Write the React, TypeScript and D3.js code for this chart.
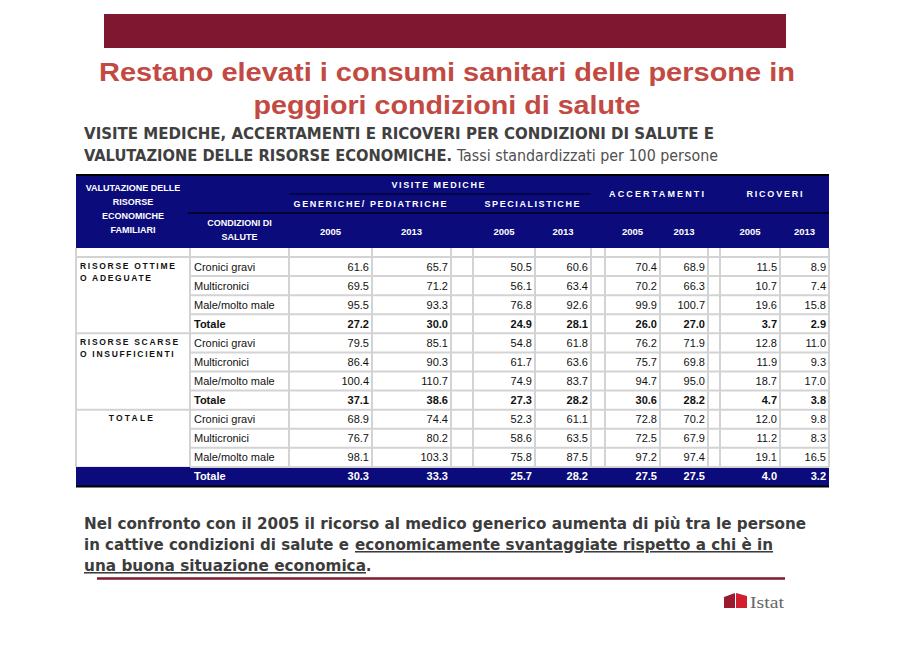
import React from 'react';
import * as d3 from 'd3';

// ---------- DATA ----------
const groupLabels: string[][] = [
  ['RISORSE OTTIME', 'O ADEGUATE'],
  ['RISORSE SCARSE', 'O INSUFFICIENTI'],
  ['TOTALE'],
];
const conditions = ['Cronici gravi', 'Multicronici', 'Male/molto male', 'Totale'];
const years = ['2005', '2013'];
const measures = ['GENERICHE/ PEDIATRICHE', 'SPECIALISTICHE', 'ACCERTAMENTI', 'RICOVERI'];
const topHeader = 'VISITE MEDICHE';
const firstColHeader = ['VALUTAZIONE DELLE', 'RISORSE', 'ECONOMICHE', 'FAMILIARI'];
const secondColHeader = ['CONDIZIONI DI', 'SALUTE'];

const generiche2005 = [61.6, 69.5, 95.5, 27.2, 79.5, 86.4, 100.4, 37.1, 68.9, 76.7, 98.1, 30.3];
const generiche2013 = [65.7, 71.2, 93.3, 30.0, 85.1, 90.3, 110.7, 38.6, 74.4, 80.2, 103.3, 33.3];
const specialistiche2005 = [50.5, 56.1, 76.8, 24.9, 54.8, 61.7, 74.9, 27.3, 52.3, 58.6, 75.8, 25.7];
const specialistiche2013 = [60.6, 63.4, 92.6, 28.1, 61.8, 63.6, 83.7, 28.2, 61.1, 63.5, 87.5, 28.2];
const accertamenti2005 = [70.4, 70.2, 99.9, 26.0, 76.2, 75.7, 94.7, 30.6, 72.8, 72.5, 97.2, 27.5];
const accertamenti2013 = [68.9, 66.3, 100.7, 27.0, 71.9, 69.8, 95.0, 28.2, 70.2, 67.9, 97.4, 27.5];
const ricoveri2005 = [11.5, 10.7, 19.6, 3.7, 12.8, 11.9, 18.7, 4.7, 12.0, 11.2, 19.1, 4.0];
const ricoveri2013 = [8.9, 7.4, 15.8, 2.9, 11.0, 9.3, 17.0, 3.8, 9.8, 8.3, 16.5, 3.2];

const titleLines = ['Restano elevati i consumi sanitari delle persone in', 'peggiori condizioni di salute'];
const subtitle1 = 'VISITE MEDICHE, ACCERTAMENTI E RICOVERI PER CONDIZIONI DI SALUTE E';
const subtitle2Bold = 'VALUTAZIONE DELLE RISORSE ECONOMICHE.';
const subtitle2Normal = 'Tassi standardizzati per 100 persone';
const noteLine1 = 'Nel confronto con il 2005 il ricorso al medico generico aumenta di più tra le persone';
const noteLine2a = 'in cattive condizioni di salute e';
const noteLine2b = 'economicamente svantaggiate rispetto a chi è in';
const noteLine3a = 'una buona situazione economica';
const noteLine3b = '.';

// ---------- LAYOUT ----------
const colWidths = [114, 99, 83, 79, 22, 62, 56, 14, 55, 48, 12, 60, 49];
const NAVY = '#0b0b7c';
const GRID = '#d3d3d3';
const TABLE_FONT = "'Liberation Sans', Arial, sans-serif";
const TAHOMA = "'DejaVu Sans Condensed', 'DejaVu Sans', sans-serif";

export default function App() {
  const W = 906, H = 645;
  const x0 = 76;
  const edges = [x0, ...Array.from(d3.cumsum(colWidths)).map((c) => x0 + c)];
  const xR = edges[edges.length - 1];
  const nRows = groupLabels.length * conditions.length;
  const y = d3.scaleBand<number>().domain(d3.range(nRows)).range([257, 486]).paddingInner(0);
  const bw = y.bandwidth();
  const valueCols = [generiche2005, generiche2013, specialistiche2005, specialistiche2013,
    accertamenti2005, accertamenti2013, ricoveri2005, ricoveri2013];
  const valueEdge = [3, 4, 6, 7, 9, 10, 12, 13];
  const fmt = d3.format('.1f');
  const measureSpans = [[2, 4], [5, 7], [8, 10], [11, 13]];
  const measureLens = [153, 95, 95, 56];
  const measureY = [207, 207, 197, 197];
  const lastRowTop = y(nRows - 1)!;

  return (
    <svg width={W} height={H} style={{ position: 'absolute', left: 0, top: 0, background: '#fff' }}>
      <rect x={0} y={0} width={W} height={H} fill="#fff" />
      {/* top bar */}
      <rect x={104} y={14} width={682} height={34} fill="#7f1730" />
      {/* title */}
      {titleLines.map((t, i) => (
        <text key={i} x={447} y={81 + i * 33} textAnchor="middle" fontFamily={TABLE_FONT}
          fontWeight="bold" fontSize={26} fill="#c24a43"
          textLength={i === 0 ? 696 : 387} lengthAdjust="spacingAndGlyphs">{t}</text>
      ))}
      {/* subtitle */}
      <text x={84} y={139} fontFamily={TAHOMA} fontWeight="bold" fontSize={15} fill="#404040"
        textLength={630} lengthAdjust="spacingAndGlyphs">{subtitle1}</text>
      <text x={84} y={161} fontFamily={TAHOMA} fontWeight="bold" fontSize={15} fill="#404040"
        textLength={368} lengthAdjust="spacingAndGlyphs">{subtitle2Bold}</text>
      <text x={457} y={161} fontFamily={TAHOMA} fontSize={15} fill="#505050"
        textLength={261} lengthAdjust="spacingAndGlyphs">{subtitle2Normal}</text>

      {/* header background */}
      <rect x={x0} y={175} width={xR - x0} height={73} fill={NAVY} />
      <line x1={x0} x2={xR} y1={175} y2={175} stroke="#000" strokeWidth={2} />
      <line x1={edges[2]} x2={edges[7]} y1={194} y2={194} stroke="#000018" strokeWidth={1.2} />
      <line x1={edges[1] - 2} x2={xR} y1={213} y2={213} stroke="#000018" strokeWidth={1.5} />

      {firstColHeader.map((t, i) => (
        <text key={i} x={(edges[0] + edges[1]) / 2} y={191 + i * 14} textAnchor="middle"
          fontFamily={TABLE_FONT} fontWeight="bold" fontSize={9} fill="#fff">{t}</text>
      ))}
      {secondColHeader.map((t, i) => (
        <text key={i} x={(edges[1] + edges[2]) / 2} y={226 + i * 14} textAnchor="middle"
          fontFamily={TABLE_FONT} fontWeight="bold" fontSize={9} fill="#fff">{t}</text>
      ))}
      <text x={(edges[2] + edges[7]) / 2 - 2} y={188} textAnchor="middle" fontFamily={TABLE_FONT}
        fontWeight="bold" fontSize={9} fill="#fff" textLength={93} lengthAdjust="spacing">{topHeader}</text>
      {measures.map((m, i) => (
        <text key={m} x={(edges[measureSpans[i][0]] + edges[measureSpans[i][1]]) / 2} y={measureY[i]}
          textAnchor="middle" fontFamily={TABLE_FONT} fontWeight="bold" fontSize={9} fill="#fff"
          textLength={measureLens[i]} lengthAdjust="spacing">{m}</text>
      ))}
      {valueEdge.map((e, i) => (
        <text key={i} x={(edges[e - 1] + edges[e]) / 2} y={235} textAnchor="middle"
          fontFamily={TABLE_FONT} fontWeight="bold" fontSize={9.5} fill="#fff">{years[i % 2]}</text>
      ))}

      {/* final total row background */}
      <rect x={x0} y={lastRowTop} width={xR - x0} height={bw} fill={NAVY} />

      {/* grid: vertical */}
      {edges.map((e, i) => (
        <line key={'v' + i} x1={e} x2={e} y1={248} y2={lastRowTop} stroke={GRID} strokeWidth={2} />
      ))}
      {/* grid: horizontal */}
      {d3.range(nRows).map((r) => (
        <line key={'h' + r} x1={r % conditions.length === 0 ? x0 : edges[1]} x2={xR}
          y1={y(r)!} y2={y(r)!} stroke={GRID} strokeWidth={2} />
      ))}
      <line x1={x0} x2={xR} y1={486.5} y2={486.5} stroke="#000" strokeWidth={2} />

      {/* group labels */}
      {groupLabels.map((lines, g) => {
        const top = y(g * conditions.length)!;
        const single = lines.length === 1;
        return lines.map((t, j) => (
          <text key={g + '-' + j} x={single ? (edges[0] + edges[1]) / 2 - 1 : 80} y={top + 11.5 + j * 12.5}
            textAnchor={single ? 'middle' : 'start'} fontFamily={TABLE_FONT} fontWeight="bold"
            fontSize={8.5} fill="#111" letterSpacing={single ? 2.2 : 1.7}>{t}</text>
        ));
      })}

      {/* row labels + values */}
      {d3.range(nRows).map((r) => {
        const c = r % conditions.length;
        const isTot = c === conditions.length - 1;
        const isLast = r === nRows - 1;
        const fill = isLast ? '#fff' : '#111';
        const cy = y(r)! + bw / 2 + 4;
        return (
          <g key={'r' + r}>
            <text x={edges[1] + 4} y={cy} fontFamily={TABLE_FONT} fontSize={11}
              fontWeight={isTot ? 'bold' : 'normal'} fill={fill}>{conditions[c]}</text>
            {valueCols.map((vals, k) => (
              <text key={k} x={edges[valueEdge[k]] - 3} y={cy} textAnchor="end" fontFamily={TABLE_FONT}
                fontSize={11} fontWeight={isTot ? 'bold' : 'normal'} fill={fill}>{fmt(vals[r])}</text>
            ))}
          </g>
        );
      })}

      {/* note */}
      <g fontFamily={TAHOMA} fontWeight="bold" fontSize={15.5} fill="#3c3c3c">
        <text x={84} y={529} textLength={722} lengthAdjust="spacingAndGlyphs">{noteLine1}</text>
        <text x={84} y={550} textLength={265} lengthAdjust="spacingAndGlyphs">{noteLine2a}</text>
        <text x={355} y={550} textLength={418} lengthAdjust="spacingAndGlyphs"
          style={{ textDecoration: 'underline' }}>{noteLine2b}</text>
        <text x={84} y={571} textLength={282} lengthAdjust="spacingAndGlyphs"
          style={{ textDecoration: 'underline' }}>{noteLine3a}</text>
        <text x={366} y={571}>{noteLine3b}</text>
      </g>
      <line x1={97} x2={785} y1={578.5} y2={578.5} stroke="#7d1a2c" strokeWidth={2.5} />

      {/* Istat logo */}
      <polygon points="724,597 735,593 735,608 724,608" fill="#9b1a30" />
      <polygon points="736,593 747,596 747,608 736,608" fill="#d21f30" />
      <text x={750} y={608} fontFamily="'Liberation Serif', 'DejaVu Serif', serif" fontSize={17}
        fill="#666" textLength={34} lengthAdjust="spacingAndGlyphs">Istat</text>
    </svg>
  );
}
